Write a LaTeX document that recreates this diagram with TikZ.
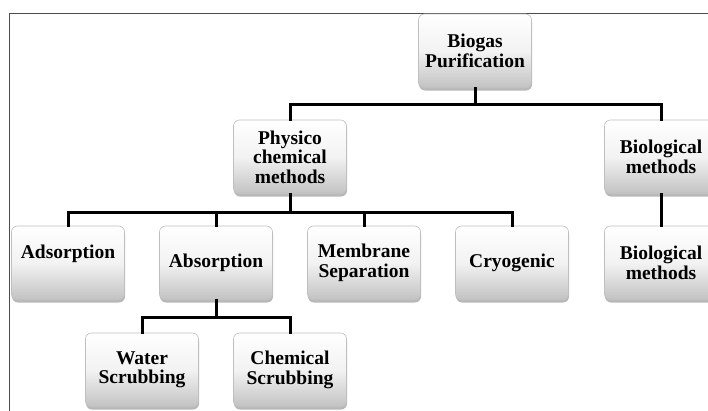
\documentclass[tikz,border=0pt]{standalone}
\usepackage{fontspec}
\setmainfont{Liberation Serif}
\usetikzlibrary{shadows,shadings}
\begin{document}
\begin{tikzpicture}[x=1pt,y=-1pt,
  boxnode/.style={rounded corners=6pt, draw=gray!50, line width=0.6pt,
    top color=white, bottom color=gray!48, middle color=white!90!gray,
    minimum width=113pt, minimum height=74pt, inner sep=2pt,
    align=center, font=\fontsize{19.5}{19.5}\selectfont\bfseries,
    drop shadow={shadow xshift=0.5pt, shadow yshift=-2.5pt, opacity=0.4, fill=black!70}},
  conn/.style={line width=3pt, draw=black, line cap=rect}]
\useasboundingbox (0,0) rectangle (708,410);
\clip (0,0) rectangle (708,410);
% frame
\draw[line width=1.5pt, draw=black!70] (9.5,415) -- (9.5,13.5) -- (715,13.5);
% nodes
\node[boxnode] (bio) at (475,51) {Biogas\\Purification};
\node[boxnode] (phys) at (290,157) {Physico\\chemical\\methods};
\node[boxnode] (biol1) at (661,157) {Biological\\methods};
\node[boxnode] (ads) at (68,263) {\raisebox{9pt}[\height][\depth]{Adsorption}};
\node[boxnode] (abs) at (216,263) {Absorption};
\node[boxnode] (mem) at (364,263) {Membrane\\Separation};
\node[boxnode] (cryo) at (512,263) {Cryogenic};
\node[boxnode] (biol2) at (661,263) {Biological\\methods};
\node[boxnode] (water) at (142,370) {Water\\Scrubbing};
\node[boxnode] (chem) at (290,370) {Chemical\\Scrubbing};
% bar levels
\coordinate (bar1) at (0,104);
\coordinate (bar2) at (0,212);
\coordinate (bar3) at (0,317);
% connectors
\draw[conn] (bio.south) -- (bio.south |- bar1) -| (phys.north);
\draw[conn] (bio.south |- bar1) -| (biol1.north);
\draw[conn] (phys.south) -- (phys.south |- bar2) -| (ads.north);
\draw[conn] (phys.south |- bar2) -| (cryo.north);
\draw[conn] (abs.north |- bar2) -- (abs.north);
\draw[conn] (mem.north |- bar2) -- (mem.north);
\draw[conn] (biol1.south) -- (biol2.north);
\draw[conn] (abs.south) -- (abs.south |- bar3) -| (water.north);
\draw[conn] (abs.south |- bar3) -| (chem.north);
\end{tikzpicture}
\end{document}
